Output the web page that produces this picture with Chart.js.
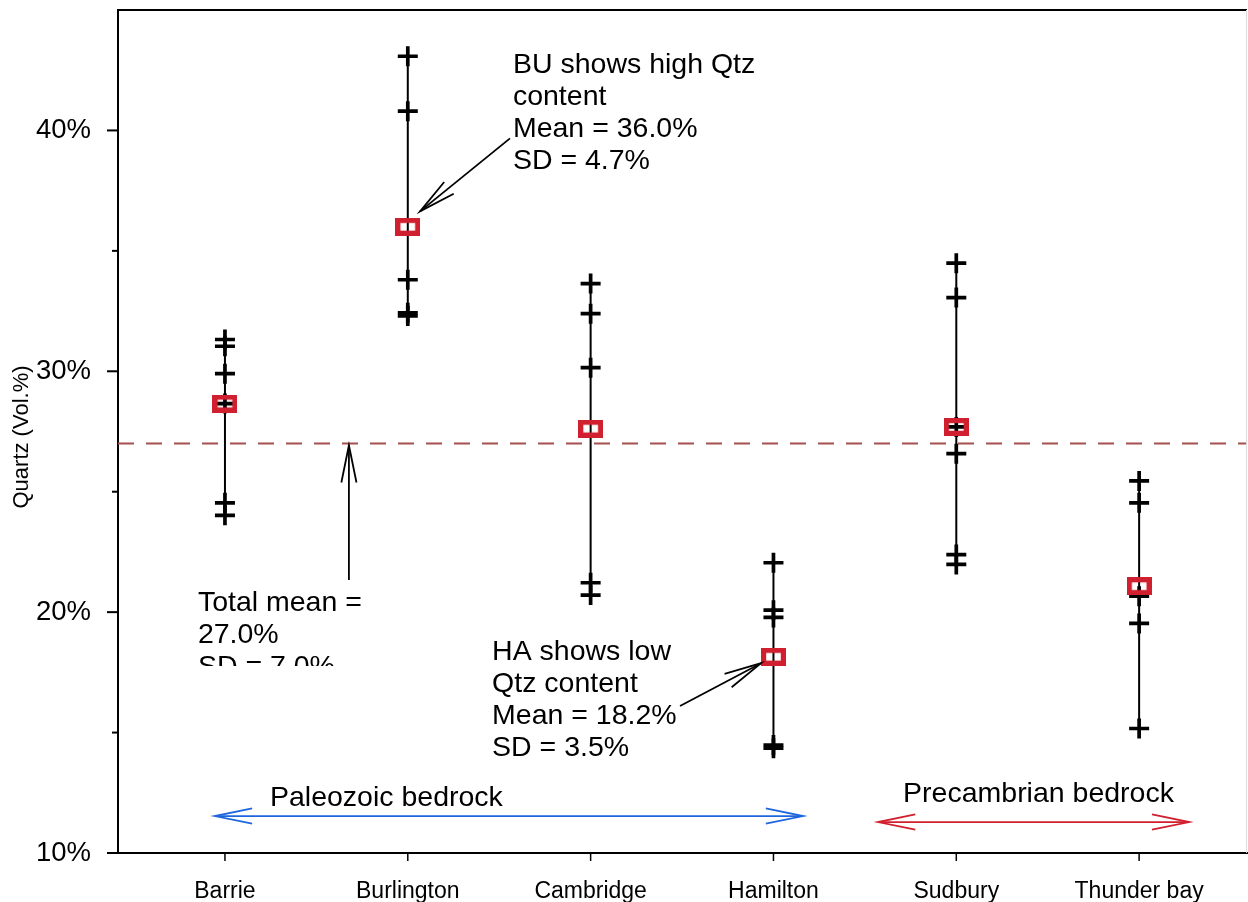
<!DOCTYPE html>
<html><head><meta charset="utf-8">
<script src="https://cdn.jsdelivr.net/npm/chart.js@4.4.1/dist/chart.umd.min.js"></script>
<style>html,body{margin:0;padding:0;background:#fff;overflow:hidden;} #wrap{width:1248px;height:902px;position:relative;}</style>
</head><body><div id="wrap"><canvas id="c"></canvas></div>
<script>
// ---------------- data ----------------
const categories = ['Barrie', 'Burlington', 'Cambridge', 'Hamilton', 'Sudbury', 'Thunder bay'];
const barrieValues = [31.32, 31.04, 29.90, 28.66, 24.54, 24.02];
const burlingtonValues = [43.08, 40.80, 33.80, 32.43, 32.30];
const cambridgeValues = [33.64, 32.39, 30.15, 21.22, 20.71];
const hamiltonValues = [22.05, 20.08, 19.78, 14.48, 14.35];
const sudburyValues = [34.49, 33.06, 27.69, 26.58, 22.39, 21.98];
const thunderBayValues = [25.45, 24.54, 20.66, 19.53, 15.17];
const siteMeans = [28.66, 36.0, 27.62, 18.15, 27.69, 21.08];
const totalMean = 27.0;
const yMajorTicks = [10, 20, 30, 40];
const yMinorTicks = [15, 25, 35];
const siteValues = [barrieValues, burlingtonValues, cambridgeValues, hamiltonValues, sudburyValues, thunderBayValues];

// ---------------- styles ----------------
const FONT = '"Liberation Sans", Arial, Helvetica, sans-serif';
const RED = '#d0202f';
const BLUE = '#1f66de';
const X_MIN = 0.415, X_MAX = 6.59, Y_MIN = 10, Y_MAX = 45;

// mean marker (red open rectangle)
const meanMarker = document.createElement('canvas');
meanMarker.width = 25; meanMarker.height = 18;
(function(){
  const g = meanMarker.getContext('2d');
  g.strokeStyle = RED; g.lineWidth = 5.2;
  g.strokeRect(2.6, 2.6, 19.8, 12.8);
})();

const pointData = [];
siteValues.forEach((vals, i) => vals.forEach(v => pointData.push({x: i + 1, y: v})));
const meanData = siteMeans.map((m, i) => ({x: i + 1, y: m}));

const datasets = [];
datasets.push({label: 'mean', data: meanData, pointStyle: meanMarker, pointRadius: 10, showLine: false, order: 0});
datasets.push({label: 'samples', data: pointData, pointStyle: 'cross', pointRadius: 10, borderColor: '#000', borderWidth: 3.7, showLine: false, order: 1});
siteValues.forEach((vals, i) => {
  datasets.push({label: 'range ' + categories[i],
    data: [{x: i + 1, y: Math.min(...vals)}, {x: i + 1, y: Math.max(...vals)}],
    showLine: true, pointRadius: 0, borderColor: '#000', borderWidth: 2, order: 2});
});
datasets.push({label: 'total mean', data: [{x: X_MIN, y: totalMean}, {x: X_MAX, y: totalMean}],
  showLine: true, pointRadius: 0, borderColor: '#a3504f', borderWidth: 2, borderDash: [16, 12], order: 3});

// ---------------- annotations (data coordinates) ----------------
const notes = [
  {lines: ['BU shows high Qtz', 'content', 'Mean = 36.0%', 'SD = 4.7%'], x: 2.575, y: 42.70},
  {lines: ['Total mean =', '27.0%', 'SD = 7.0%'], x: 0.852, y: 20.376, clipY: 17.76},
  {lines: ['HA shows low', 'Qtz content', 'Mean = 18.2%', 'SD = 3.5%'], x: 2.461, y: 18.34},
  {lines: ['Paleozoic bedrock'], x: 1.246, y: 12.285},
  {lines: ['Precambrian bedrock'], x: 4.709, y: 12.45}
];
const arrows = [
  {from: [2.559, 39.67], to: [2.067, 36.64], color: '#000', w: 1.8},
  {from: [1.678, 21.33], to: [1.678, 26.93], color: '#000', w: 1.8},
  {from: [3.489, 16.10], to: [3.932, 17.88], color: '#000', w: 1.8},
  {from: [0.945, 11.535], to: [4.162, 11.535], color: BLUE, w: 1.8, both: true},
  {from: [4.572, 11.286], to: [6.274, 11.286], color: RED, w: 1.8, both: true}
];

function head(ctx, tx, ty, fx, fy) {
  const a = Math.atan2(fy - ty, fx - tx), len = 38, ang = 0.2;
  ctx.beginPath();
  ctx.moveTo(tx + len * Math.cos(a + ang), ty + len * Math.sin(a + ang));
  ctx.lineTo(tx, ty);
  ctx.lineTo(tx + len * Math.cos(a - ang), ty + len * Math.sin(a - ang));
  ctx.stroke();
}

const decor = {
  id: 'decor',
  afterDatasetsDraw(chart) {
    const ctx = chart.ctx, xs = chart.scales.x, ys = chart.scales.y, ca = chart.chartArea;
    ctx.save();
    // frame
    ctx.strokeStyle = '#000'; ctx.lineWidth = 2;
    ctx.beginPath(); ctx.moveTo(ca.left, ca.top); ctx.lineTo(ca.right, ca.top); ctx.stroke();
    ctx.strokeStyle = '#dddddd'; ctx.lineWidth = 1;
    ctx.beginPath(); ctx.moveTo(ca.right - 0.5, ca.top); ctx.lineTo(ca.right - 0.5, ca.bottom); ctx.stroke();
    // y ticks
    ctx.strokeStyle = '#000'; ctx.lineWidth = 2;
    yMajorTicks.forEach(v => { const p = ys.getPixelForValue(v); ctx.beginPath(); ctx.moveTo(ca.left - 11, p); ctx.lineTo(ca.left, p); ctx.stroke(); });
    yMinorTicks.forEach(v => { const p = ys.getPixelForValue(v); ctx.beginPath(); ctx.moveTo(ca.left - 6, p); ctx.lineTo(ca.left, p); ctx.stroke(); });
    // x ticks
    ctx.lineWidth = 1.5;
    categories.forEach((c, i) => { const p = xs.getPixelForValue(i + 1); ctx.beginPath(); ctx.moveTo(p, ca.bottom); ctx.lineTo(p, ca.bottom + 8); ctx.stroke(); });
    // y title
    ctx.save();
    ctx.translate(22, 437); ctx.rotate(-Math.PI / 2);
    ctx.fillStyle = '#000'; ctx.font = '22px ' + FONT; ctx.textAlign = 'center'; ctx.textBaseline = 'middle';
    ctx.fillText('Quartz (Vol.%)', 0, 0);
    ctx.restore();
    // arrows
    ctx.lineCap = 'butt';
    arrows.forEach(a => {
      const fx = xs.getPixelForValue(a.from[0]), fy = ys.getPixelForValue(a.from[1]);
      const tx = xs.getPixelForValue(a.to[0]), ty = ys.getPixelForValue(a.to[1]);
      ctx.strokeStyle = a.color; ctx.lineWidth = a.w;
      ctx.beginPath(); ctx.moveTo(fx, fy); ctx.lineTo(tx, ty); ctx.stroke();
      head(ctx, tx, ty, fx, fy);
      if (a.both) head(ctx, fx, fy, tx, ty);
    });
    // notes
    ctx.fillStyle = '#000'; ctx.font = '28.5px ' + FONT; ctx.textAlign = 'left'; ctx.textBaseline = 'middle';
    notes.forEach(n => {
      const x = xs.getPixelForValue(n.x), y = ys.getPixelForValue(n.y);
      ctx.save();
      if (n.clipY !== undefined) {
        const cy = ys.getPixelForValue(n.clipY);
        ctx.beginPath(); ctx.rect(0, 0, chart.width, cy); ctx.clip();
      }
      n.lines.forEach((l, k) => ctx.fillText(l, x, y + k * 32));
      ctx.restore();
    });
    ctx.restore();
  }
};

new Chart(document.getElementById('c'), {
  type: 'scatter',
  data: {datasets},
  plugins: [decor],
  options: {
    responsive: true, maintainAspectRatio: false, animation: false, devicePixelRatio: 1,
    events: [],
    layout: {autoPadding: false, padding: {top: 10, right: 1, left: 0, bottom: 0}},
    plugins: {legend: {display: false}, tooltip: {enabled: false}},
    scales: {
      x: {
        type: 'linear', min: X_MIN, max: X_MAX,
        afterBuildTicks: s => { s.ticks = categories.map((c, i) => ({value: i + 1})); },
        afterFit: s => { s.height = 49; s.paddingLeft = 0; s.paddingRight = 0; },
        grid: {display: false, drawTicks: false},
        border: {display: true, color: '#000', width: 2},
        ticks: {callback: v => categories[v - 1] || '', font: {family: FONT, size: 23}, color: '#000', padding: 25, maxRotation: 0, autoSkip: false}
      },
      y: {
        min: Y_MIN, max: Y_MAX,
        afterBuildTicks: s => { s.ticks = yMajorTicks.map(v => ({value: v})); },
        afterFit: s => { s.width = 118; s.paddingTop = 0; s.paddingBottom = 0; },
        grid: {display: false, drawTicks: false},
        border: {display: true, color: '#000', width: 2},
        ticks: {callback: v => v + '%', font: {family: FONT, size: 27.5}, color: '#000', padding: 27}
      }
    }
  }
});
</script>
</body></html>
